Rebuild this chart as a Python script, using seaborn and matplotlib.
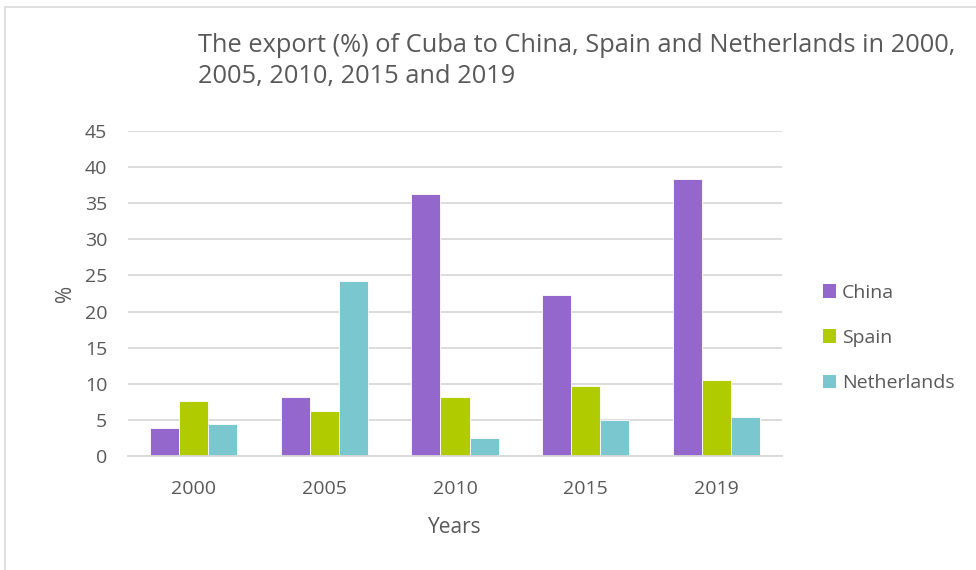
import matplotlib
matplotlib.use("Agg")
import matplotlib.pyplot as plt
import seaborn as sns
import pandas as pd
from matplotlib.patches import Rectangle, Patch

years = ["2000", "2005", "2010", "2015", "2019"]
china = [3.9, 8.2, 36.3, 22.3, 38.3]
spain = [7.6, 6.2, 8.2, 9.7, 10.5]
netherlands = [4.5, 24.2, 2.5, 5.0, 5.4]
series_names = ["China", "Spain", "Netherlands"]
colors = ["#9467CC", "#B0CB00", "#7AC7D0"]
title_lines = ["The export (%) of Cuba to China, Spain and Netherlands in 2000,",
               "2005, 2010, 2015 and 2019"]

rows = []
for name, vals in zip(series_names, [china, spain, netherlands]):
    for y, v in zip(years, vals):
        rows.append({"Years": y, "Country": name, "Value": v})
df = pd.DataFrame(rows)

sns.set_theme(style="white")
plt.rcParams['font.family'] = ['Open Sans', 'DejaVu Sans']
text_color = "#595959"

fig = plt.figure(figsize=(9.76, 5.70), dpi=100)
ax = fig.add_axes([128/976, 1-456/570, (782-128)/976, (456-131)/570])

sns.barplot(data=df, x="Years", y="Value", hue="Country", palette=colors,
            width=0.667, ax=ax, legend=False, saturation=1, edgecolor="white", linewidth=0.6)

ax.set_ylim(0, 45)
ax.set_yticks(range(0, 46, 5))
ax.yaxis.grid(True, color="#D9D9D9", linewidth=1.3)
ax.set_axisbelow(True)
for s in ["top", "right", "left"]:
    ax.spines[s].set_visible(False)
ax.spines["bottom"].set_color("#D9D9D9")
ax.spines["bottom"].set_linewidth(1.3)
ax.tick_params(axis="both", length=0, labelsize=14, colors=text_color)
ax.tick_params(axis="x", pad=17)
ax.tick_params(axis="y", pad=15)
ax.set_xlabel("Years", fontsize=15, color=text_color, labelpad=14)
ax.set_ylabel("%", fontsize=15, color=text_color, labelpad=6)

fig.text(198/976, 1-45/570, title_lines[0], fontsize=18.3, color=text_color,
         ha="left", va="center")
fig.text(198/976, 1-77/570, title_lines[1], fontsize=18.3, color=text_color,
         ha="left", va="center")

handles = [Patch(facecolor=c, edgecolor="none") for c in colors]
fig.legend(handles, series_names, loc="center left", bbox_to_anchor=(805/976, 1-338/570),
           frameon=False, fontsize=14, labelcolor=text_color, handlelength=0.7,
           handleheight=0.7, handletextpad=0.3, labelspacing=1.4)

fig.patches.append(Rectangle((5/976, -0.01), 1.0, 1-7/570 + 0.01, transform=fig.transFigure,
                             fill=False, edgecolor="#D9D9D9", linewidth=1.2))

fig.savefig("out.png", dpi=100)
